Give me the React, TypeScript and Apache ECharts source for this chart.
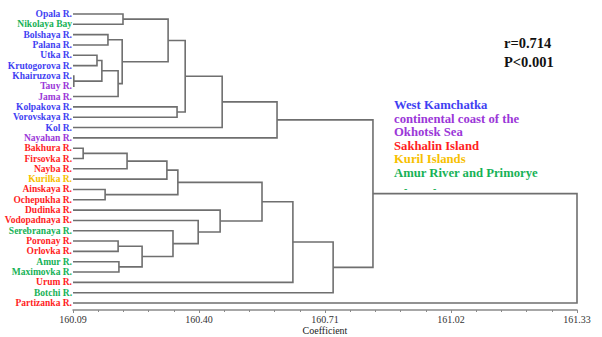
import React, { useEffect, useRef } from "react";
import * as echarts from "echarts";

// Leaves in displayed order (top to bottom)
const leaves = [
  "Opala R.", "Nikolaya Bay", "Bolshaya R.", "Palana R.", "Utka R.", "Krutogorova R.",
  "Khairuzova R.", "Tauy R.", "Jama R.", "Kolpakova R.", "Vorovskaya R.", "Kol R.",
  "Nayahan R.", "Bakhura R.", "Firsovka R.", "Nayba R.", "Kurilka R.", "Ainskaya R.",
  "Ochepukha R.", "Dudinka R.", "Vodopadnaya R.", "Serebranaya R.", "Poronay R.",
  "Orlovka R.", "Amur R.", "Maximovka R.", "Urum R.", "Botchi R.", "Partizanka R.",
];
// region group of each leaf: b = West Kamchatka, p = continental coast, r = Sakhalin, y = Kuril, g = Amur/Primorye
const leafGroup = [
  "b", "g", "b", "b", "b", "b", "b", "p", "p", "b", "b", "b", "p", "r", "r", "r", "y", "r",
  "r", "r", "r", "g", "r", "r", "g", "g", "r", "g", "r",
];

// Merges: node ids < 29 are leaves, id 29 + k is the k-th merge
const mergeA = [6, 13, 4, 31, 17, 2, 32, 22, 24, 34, 0, 30, 36, 40, 39, 21, 9, 42, 43, 20, 19, 47, 46, 50, 51, 53, 52, 55];
const mergeB = [7, 14, 5, 29, 18, 3, 8, 23, 25, 35, 1, 15, 37, 16, 38, 41, 10, 33, 45, 44, 48, 11, 49, 12, 26, 27, 54, 28];
const mergeHeight = [
  160.092, 160.115, 160.149, 160.161, 160.169, 160.176, 160.201, 160.201, 160.203, 160.211,
  160.213, 160.223, 160.26, 160.321, 160.324, 160.336, 160.346, 160.348, 160.366, 160.398,
  160.452, 160.457, 160.555, 160.592, 160.631, 160.73, 160.828, 161.33,
];

const axisMin = 160.09;
const axisMax = 161.33;
const axisStep = 0.31;

const legendLabels = [
  "West Kamchatka",
  "continental coast of the",
  "Okhotsk Sea",
  "Sakhalin Island",
  "Kuril Islands",
  "Amur River and Primorye",
];
const legendGroups = ["b", "p", "p", "r", "y", "g"];
const statLines = ["r=0.714", "P<0.001"];

const groupColors: Record<string, string> = {
  b: "#3f3ff2",
  p: "#9b37d8",
  r: "#ff1e1e",
  y: "#f7c000",
  g: "#17b257",
};

const SERIF = "Liberation Serif";

export default function App() {
  const ref = useRef<HTMLDivElement>(null);

  useEffect(() => {
    if (!ref.current) return;
    const chart = echarts.init(ref.current, undefined, { renderer: "svg" });

    const N = leaves.length;
    const nodeX: number[] = [];
    const nodeY: number[] = [];
    for (let i = 0; i < N; i++) {
      nodeX[i] = axisMin;
      nodeY[i] = i;
    }
    const segData: number[][] = [];
    for (let k = 0; k < mergeA.length; k++) {
      const a = mergeA[k];
      const b = mergeB[k];
      const h = mergeHeight[k];
      segData.push([nodeX[a], nodeY[a], nodeX[b], nodeY[b], h]);
      nodeX[N + k] = h;
      nodeY[N + k] = (nodeY[a] + nodeY[b]) / 2;
    }

    const rich: Record<string, any> = {};
    Object.keys(groupColors).forEach((g) => {
      rich[g] = {
        color: groupColors[g],
        fontFamily: SERIF,
        fontWeight: "bold",
        fontSize: 9.5,
      };
    });

    const graphics: any[] = [];
    legendLabels.forEach((t, i) => {
      graphics.push({
        type: "text",
        left: 394,
        top: 98.5 + i * 13.6,
        style: {
          text: t,
          fill: groupColors[legendGroups[i]],
          fontFamily: SERIF,
          fontWeight: "bold",
          fontSize: 12.7,
        },
      });
    });
    statLines.forEach((t, i) => {
      graphics.push({
        type: "text",
        left: 504,
        top: 35 + i * 19,
        style: { text: t, fill: "#111", fontFamily: SERIF, fontWeight: "bold", fontSize: 14.5 },
      });
    });
    [404, 433].forEach((x) => {
      graphics.push({
        type: "text",
        left: x,
        top: 183,
        style: { text: "-", fill: "#17b257", fontFamily: SERIF, fontWeight: "bold", fontSize: 10 },
      });
    });

    chart.setOption({
      animation: false,
      backgroundColor: "#ffffff",
      grid: {
        left: 73,
        right: 25,
        top: 14,
        bottom: 34,
        containLabel: false,
        outerBoundsMode: "none",
      },
      xAxis: {
        type: "value",
        position: "bottom",
        min: axisMin,
        max: axisMax,
        interval: axisStep,
        offset: 7,
        axisLine: { show: true, onZero: false, lineStyle: { color: "#8a8a8a", width: 1.5 } },
        axisTick: { show: true, length: 3, lineStyle: { color: "#8a8a8a" } },
        minorTick: { show: true, splitNumber: 5, length: 2, lineStyle: { color: "#8a8a8a" } },
        splitLine: { show: false },
        axisLabel: {
          fontFamily: SERIF,
          fontSize: 10,
          color: "#333",
          margin: 4,
          formatter: (v: number) => v.toFixed(2),
        },
        name: "Coefficient",
        nameLocation: "middle",
        nameGap: 15,
        nameMoveOverlap: false,
        nameTextStyle: { fontFamily: SERIF, fontSize: 10, color: "#222" },
      },
      yAxis: {
        type: "value",
        min: 0,
        max: N - 1,
        interval: 1,
        inverse: true,
        axisLine: { show: false, onZero: false },
        axisTick: { show: false },
        splitLine: { show: false },
        axisLabel: {
          margin: 1,
          hideOverlap: false,
          formatter: (v: number) => {
            const i = Math.round(v);
            return `{${leafGroup[i]}|${leaves[i]}}`;
          },
          rich,
        },
      },
      series: [
        {
          type: "custom",
          clip: false,
          data: segData,
          encode: { x: [0, 2, 4], y: [1, 3] },
          renderItem: (params: any, api: any) => {
            const xa = api.value(0);
            const ya = api.value(1);
            const xb = api.value(2);
            const yb = api.value(3);
            const h = api.value(4);
            const pts = [
              api.coord([xa, ya]),
              api.coord([h, ya]),
              api.coord([h, yb]),
              api.coord([xb, yb]),
            ];
            return {
              type: "polyline",
              shape: { points: pts },
              style: { stroke: "#6f6f6f", lineWidth: 1.6, fill: "none" },
            };
          },
        },
      ],
      graphic: graphics,
    });

    return () => chart.dispose();
  }, []);

  return (
    <div
      ref={ref}
      style={{ position: "fixed", left: 0, top: 0, width: 602, height: 337, background: "#fff" }}
    />
  );
}
